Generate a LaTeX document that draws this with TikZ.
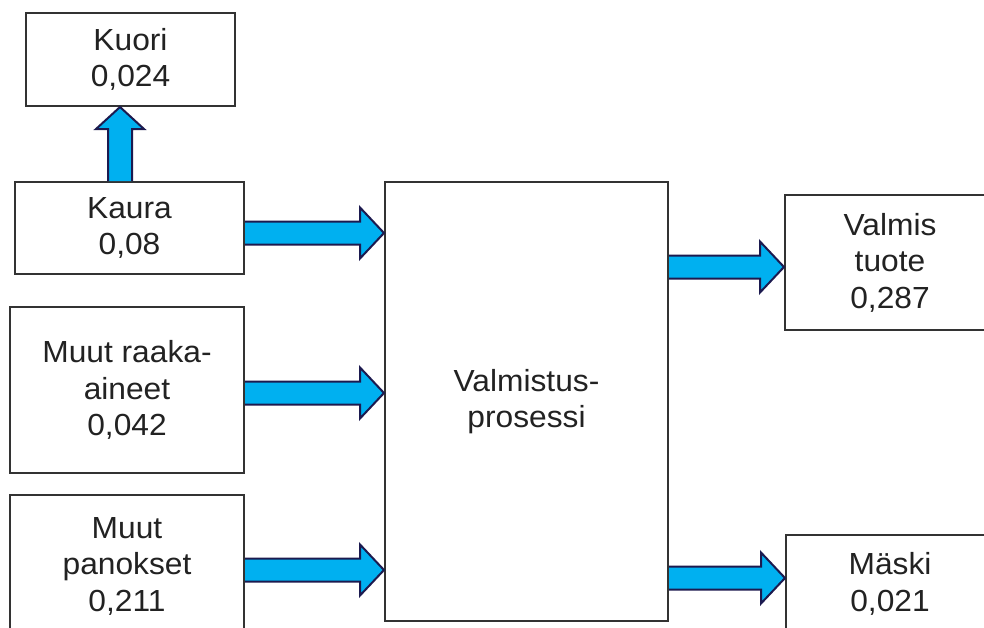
\documentclass[tikz,border=0pt]{standalone}
\usepackage{fontspec}
\setmainfont{Liberation Sans}[FakeStretch=1.04]
\usetikzlibrary{calc}
\definecolor{arrowfill}{HTML}{00B0F0}
\definecolor{arrowline}{HTML}{1C1A4F}
\definecolor{boxline}{HTML}{333333}
\definecolor{txt}{HTML}{222222}
\tikzset{
  box/.style={draw=boxline, line width=2pt, fill=white, align=center, inner sep=0pt,
    font=\fontsize{30.5}{36.5}\selectfont, text=txt},
  barrow/.style={fill=arrowfill, draw=arrowline, line width=2pt, line join=miter}
}
% horizontal block arrow: #1 source node, #2 target node, #3 y position (px)
\newcommand\hbarrow[3]{%
  \coordinate (hy) at (0,#3);
  \path (#1.east |- hy) coordinate (s) (#2.west |- hy) coordinate (t);
  \draw[barrow] ($(s)+(0,-11.5)$) -- ($(t)+(-24,-11.5)$) -- ($(t)+(-24,-25.5)$) -- (t)
     -- ($(t)+(-24,25.5)$) -- ($(t)+(-24,11.5)$) -- ($(s)+(0,11.5)$);
}
\begin{document}
\begin{tikzpicture}[x=1pt,y=-1pt]
\useasboundingbox (0,0) rectangle (984,627);
\clip (0,0) rectangle (984,627);
\fill[white] (0,0) rectangle (984,627);
% boxes
\node[box, minimum width=209pt, minimum height=93pt] (kuori) at (130.5,59.5) {Kuori\\0,024};
\node[box, minimum width=229pt, minimum height=92pt] (kaura) at (129.5,228) {Kaura\\0,08};
\node[box, minimum width=234pt, minimum height=166pt] (raaka) at (127,390) {Muut raaka-\\aineet\\0,042};
\node[box, minimum width=234pt, minimum height=142pt] (panos) at (127,566) {Muut\\panokset\\0,211};
\node[box, minimum width=283pt, minimum height=439pt] (valm) at (526.5,401.5) {Valmistus-\\prosessi};
\node[box, minimum width=210pt, minimum height=135pt] (tuote) at (890,262.5) {Valmis\\tuote\\0,287};
\node[box, minimum width=208pt, minimum height=98pt] (maski) at (890,584) {Mäski\\0,021};
% vertical arrow Kaura -> Kuori
\coordinate (vx) at (120,0);
\path (kaura.north -| vx) coordinate (vs) (kuori.south -| vx) coordinate (vt);
\draw[barrow] ($(vs)+(-12,0)$) -- ($(vt)+(-12,22)$) -- ($(vt)+(-24,22)$) -- (vt)
   -- ($(vt)+(24,22)$) -- ($(vt)+(12,22)$) -- ($(vs)+(12,0)$);
% horizontal arrows
\hbarrow{kaura}{valm}{233}
\hbarrow{raaka}{valm}{393}
\hbarrow{panos}{valm}{570}
\hbarrow{valm}{tuote}{267}
\hbarrow{valm}{maski}{578}
\end{tikzpicture}
\end{document}
